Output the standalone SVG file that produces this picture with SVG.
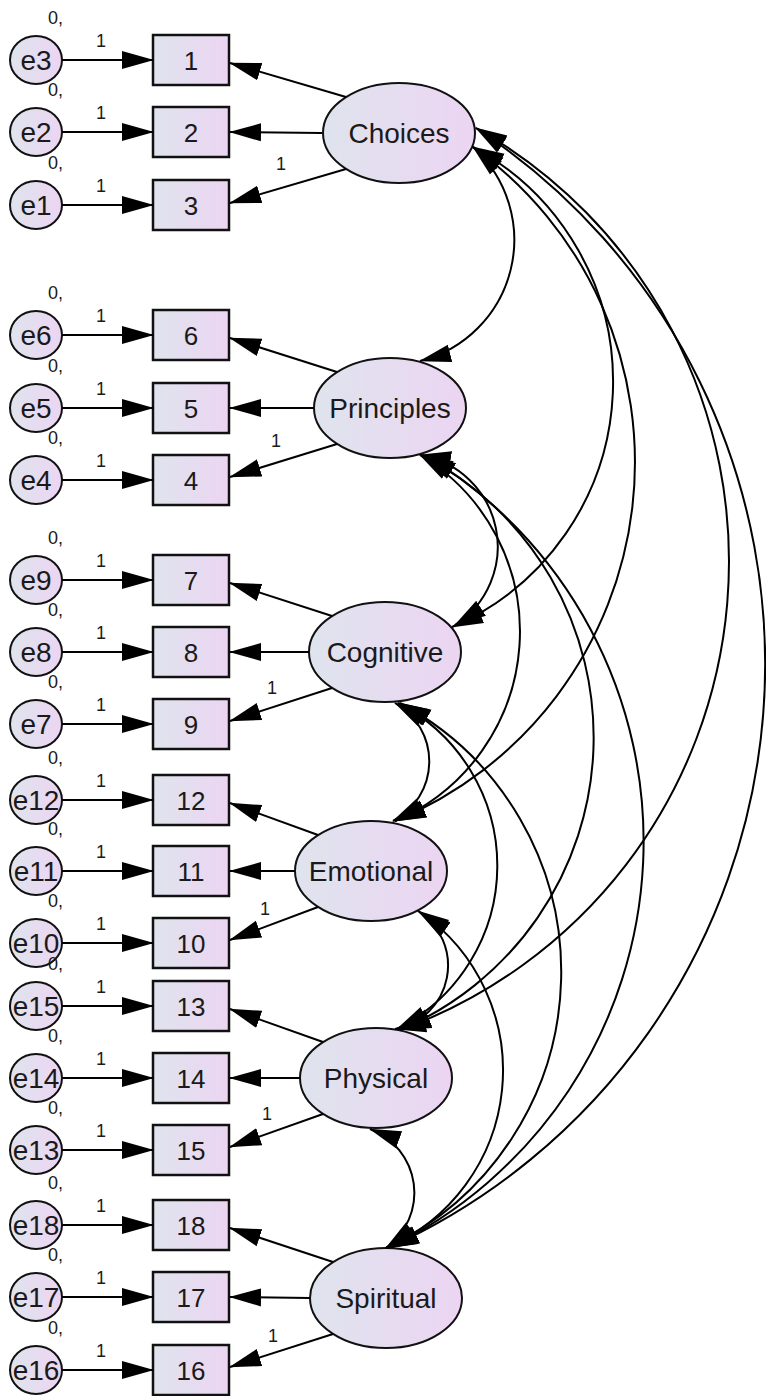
<svg xmlns="http://www.w3.org/2000/svg" width="766" height="1396" viewBox="0 0 766 1396">
<defs>
<linearGradient id="g" x1="0" x2="1" y1="0" y2="0"><stop offset="0" stop-color="#dfe4ee"/><stop offset="1" stop-color="#ecd5f2"/></linearGradient>
<marker id="ah" markerUnits="userSpaceOnUse" viewBox="0 0 32 20" markerWidth="32" markerHeight="20" refX="31" refY="10" orient="auto-start-reverse"><path d="M0,1 L32,10 L0,19 z" fill="#000"/></marker>
</defs>
<style>
.lv{fill:url(#g);stroke:#111;stroke-width:2}
.ob{fill:url(#g);stroke:#111;stroke-width:2.5}
.er{fill:url(#g);stroke:#111;stroke-width:2}
.t{font-family:"Liberation Sans",Arial,sans-serif;fill:#1a1a1a;text-anchor:middle}
.big{font-size:26px}
.fl{font-size:28px}
.el{font-size:28px}
.sm{font-family:"Liberation Sans",Arial,sans-serif;fill:#1a1a1a;font-size:18px}
.c line,.c path{stroke:#000;stroke-width:2;fill:none}
.c line{marker-end:url(#ah)}
.c path{marker-start:url(#ah);marker-end:url(#ah)}
</style>
<rect width="766" height="1396" fill="#fff"/>

<g id="Choices"><ellipse class="lv" cx="399" cy="133" rx="76" ry="50"/><text class="t fl" x="399" y="143">Choices</text></g>
<g id="Principles"><ellipse class="lv" cx="390" cy="408" rx="76" ry="50"/><text class="t fl" x="390" y="418">Principles</text></g>
<g id="Cognitive"><ellipse class="lv" cx="385" cy="652" rx="76" ry="50"/><text class="t fl" x="385" y="662">Cognitive</text></g>
<g id="Emotional"><ellipse class="lv" cx="371" cy="871" rx="76" ry="50"/><text class="t fl" x="371" y="881">Emotional</text></g>
<g id="Physical"><ellipse class="lv" cx="376" cy="1078" rx="76" ry="50"/><text class="t fl" x="376" y="1088">Physical</text></g>
<g id="Spiritual"><ellipse class="lv" cx="386" cy="1298" rx="76" ry="50"/><text class="t fl" x="386" y="1308">Spiritual</text></g>

<g id="box1"><rect class="ob" x="153" y="35" width="76" height="50"/><text class="t big" x="191" y="70">1</text></g>
<g id="box2"><rect class="ob" x="153" y="107" width="76" height="50"/><text class="t big" x="191" y="142">2</text></g>
<g id="box3"><rect class="ob" x="153" y="180" width="76" height="50"/><text class="t big" x="191" y="215">3</text></g>
<g id="box6"><rect class="ob" x="153" y="310" width="76" height="50"/><text class="t big" x="191" y="345">6</text></g>
<g id="box5"><rect class="ob" x="153" y="383" width="76" height="50"/><text class="t big" x="191" y="418">5</text></g>
<g id="box4"><rect class="ob" x="153" y="455" width="76" height="50"/><text class="t big" x="191" y="490">4</text></g>
<g id="box7"><rect class="ob" x="153" y="555" width="76" height="50"/><text class="t big" x="191" y="590">7</text></g>
<g id="box8"><rect class="ob" x="153" y="627" width="76" height="50"/><text class="t big" x="191" y="662">8</text></g>
<g id="box9"><rect class="ob" x="153" y="699" width="76" height="50"/><text class="t big" x="191" y="734">9</text></g>
<g id="box12"><rect class="ob" x="153" y="775" width="76" height="50"/><text class="t big" x="191" y="810">12</text></g>
<g id="box11"><rect class="ob" x="153" y="846" width="76" height="50"/><text class="t big" x="191" y="881">11</text></g>
<g id="box10"><rect class="ob" x="153" y="918" width="76" height="50"/><text class="t big" x="191" y="953">10</text></g>
<g id="box13"><rect class="ob" x="153" y="981" width="76" height="50"/><text class="t big" x="191" y="1016">13</text></g>
<g id="box14"><rect class="ob" x="153" y="1053" width="76" height="50"/><text class="t big" x="191" y="1088">14</text></g>
<g id="box15"><rect class="ob" x="153" y="1125" width="76" height="50"/><text class="t big" x="191" y="1160">15</text></g>
<g id="box18"><rect class="ob" x="153" y="1200" width="76" height="50"/><text class="t big" x="191" y="1235">18</text></g>
<g id="box17"><rect class="ob" x="153" y="1272" width="76" height="50"/><text class="t big" x="191" y="1307">17</text></g>
<g id="box16"><rect class="ob" x="153" y="1345" width="76" height="50"/><text class="t big" x="191" y="1380">16</text></g>

<g id="e3"><ellipse class="er" cx="36" cy="60" rx="26" ry="24"/><text class="t el" x="36" y="70">e3</text><text class="sm" x="48" y="24">0,</text></g>
<g id="e2"><ellipse class="er" cx="36" cy="132" rx="26" ry="24"/><text class="t el" x="36" y="142">e2</text><text class="sm" x="48" y="96">0,</text></g>
<g id="e1"><ellipse class="er" cx="36" cy="205" rx="26" ry="24"/><text class="t el" x="36" y="215">e1</text><text class="sm" x="48" y="169">0,</text></g>
<g id="e6"><ellipse class="er" cx="36" cy="335" rx="26" ry="24"/><text class="t el" x="36" y="345">e6</text><text class="sm" x="48" y="299">0,</text></g>
<g id="e5"><ellipse class="er" cx="36" cy="408" rx="26" ry="24"/><text class="t el" x="36" y="418">e5</text><text class="sm" x="48" y="372">0,</text></g>
<g id="e4"><ellipse class="er" cx="36" cy="480" rx="26" ry="24"/><text class="t el" x="36" y="490">e4</text><text class="sm" x="48" y="444">0,</text></g>
<g id="e9"><ellipse class="er" cx="36" cy="580" rx="26" ry="24"/><text class="t el" x="36" y="590">e9</text><text class="sm" x="48" y="544">0,</text></g>
<g id="e8"><ellipse class="er" cx="36" cy="652" rx="26" ry="24"/><text class="t el" x="36" y="662">e8</text><text class="sm" x="48" y="616">0,</text></g>
<g id="e7"><ellipse class="er" cx="36" cy="724" rx="26" ry="24"/><text class="t el" x="36" y="734">e7</text><text class="sm" x="48" y="688">0,</text></g>
<g id="e12"><ellipse class="er" cx="36" cy="800" rx="26" ry="24"/><text class="t el" x="36" y="810">e12</text><text class="sm" x="48" y="764">0,</text></g>
<g id="e11"><ellipse class="er" cx="36" cy="871" rx="26" ry="24"/><text class="t el" x="36" y="881">e11</text><text class="sm" x="48" y="835">0,</text></g>
<g id="e10"><ellipse class="er" cx="36" cy="943" rx="26" ry="24"/><text class="t el" x="36" y="953">e10</text><text class="sm" x="48" y="907">0,</text></g>
<g id="e15"><ellipse class="er" cx="36" cy="1006" rx="26" ry="24"/><text class="t el" x="36" y="1016">e15</text><text class="sm" x="48" y="970">0,</text></g>
<g id="e14"><ellipse class="er" cx="36" cy="1078" rx="26" ry="24"/><text class="t el" x="36" y="1088">e14</text><text class="sm" x="48" y="1042">0,</text></g>
<g id="e13"><ellipse class="er" cx="36" cy="1150" rx="26" ry="24"/><text class="t el" x="36" y="1160">e13</text><text class="sm" x="48" y="1114">0,</text></g>
<g id="e18"><ellipse class="er" cx="36" cy="1225" rx="26" ry="24"/><text class="t el" x="36" y="1235">e18</text><text class="sm" x="48" y="1189">0,</text></g>
<g id="e17"><ellipse class="er" cx="36" cy="1297" rx="26" ry="24"/><text class="t el" x="36" y="1307">e17</text><text class="sm" x="48" y="1261">0,</text></g>
<g id="e16"><ellipse class="er" cx="36" cy="1370" rx="26" ry="24"/><text class="t el" x="36" y="1380">e16</text><text class="sm" x="48" y="1334">0,</text></g>

<g id="connectors" class="c">
<line x1="62" y1="60" x2="153" y2="60"/><line x1="62" y1="132" x2="153" y2="132"/><line x1="62" y1="205" x2="153" y2="205"/>
<line x1="62" y1="335" x2="153" y2="335"/><line x1="62" y1="408" x2="153" y2="408"/><line x1="62" y1="480" x2="153" y2="480"/>
<line x1="62" y1="580" x2="153" y2="580"/><line x1="62" y1="652" x2="153" y2="652"/><line x1="62" y1="724" x2="153" y2="724"/>
<line x1="62" y1="800" x2="153" y2="800"/><line x1="62" y1="871" x2="153" y2="871"/><line x1="62" y1="943" x2="153" y2="943"/>
<line x1="62" y1="1006" x2="153" y2="1006"/><line x1="62" y1="1078" x2="153" y2="1078"/><line x1="62" y1="1150" x2="153" y2="1150"/>
<line x1="62" y1="1225" x2="153" y2="1225"/><line x1="62" y1="1297" x2="153" y2="1297"/><line x1="62" y1="1370" x2="153" y2="1370"/>

<line x1="346" y1="97" x2="230" y2="63"/><line x1="322" y1="133" x2="230" y2="132"/><line x1="346" y1="169" x2="230" y2="203"/>
<line x1="337" y1="372" x2="230" y2="338"/><line x1="314" y1="408" x2="230" y2="408"/><line x1="337" y1="444" x2="230" y2="477"/>
<line x1="332" y1="616" x2="230" y2="583"/><line x1="309" y1="652" x2="230" y2="652"/><line x1="332" y1="688" x2="230" y2="721"/>
<line x1="318" y1="835" x2="230" y2="803"/><line x1="295" y1="871" x2="230" y2="871"/><line x1="318" y1="907" x2="230" y2="940"/>
<line x1="323" y1="1042" x2="230" y2="1009"/><line x1="300" y1="1078" x2="230" y2="1078"/><line x1="323" y1="1114" x2="230" y2="1147"/>
<line x1="333" y1="1262" x2="230" y2="1228"/><line x1="310" y1="1298" x2="230" y2="1297"/><line x1="333" y1="1334" x2="230" y2="1367"/>

<path d="M473,147 A125,125 0 0 1 420,361"/>
<path d="M473,147 A267,267 0 0 1 452,627"/>
<path d="M473,147 A388,388 0 0 1 395,821"/>
<path d="M476,128 A498,498 0 0 1 400,1030"/>
<path d="M476,128 A641,641 0 0 1 388,1248"/>
<path d="M420,455 A93,93 0 0 1 455,625"/>
<path d="M420,455 A206,206 0 0 1 395,821"/>
<path d="M422,455 A318,318 0 0 1 400,1030"/>
<path d="M425,455 A451,451 0 0 1 388,1248"/>
<path d="M395,703 A67,67 0 0 1 393,821"/>
<path d="M398,703 A183,183 0 0 1 397,1029"/>
<path d="M400,703 A305,305 0 0 1 386,1248"/>
<path d="M418,911 A64.5,64.5 0 0 1 395,1029"/>
<path d="M420,912 A193,193 0 0 1 386,1248"/>
<path d="M370,1129 A68,68 0 0 1 386,1248"/>
</g>

<g id="labels">
<text class="sm" x="96" y="47">1</text><text class="sm" x="96" y="119">1</text><text class="sm" x="96" y="192">1</text>
<text class="sm" x="96" y="322">1</text><text class="sm" x="96" y="395">1</text><text class="sm" x="96" y="467">1</text>
<text class="sm" x="96" y="567">1</text><text class="sm" x="96" y="639">1</text><text class="sm" x="96" y="711">1</text>
<text class="sm" x="96" y="787">1</text><text class="sm" x="96" y="858">1</text><text class="sm" x="96" y="930">1</text>
<text class="sm" x="96" y="993">1</text><text class="sm" x="96" y="1065">1</text><text class="sm" x="96" y="1137">1</text>
<text class="sm" x="96" y="1212">1</text><text class="sm" x="96" y="1284">1</text><text class="sm" x="96" y="1357">1</text>
<text class="sm" x="276" y="170">1</text><text class="sm" x="271" y="447">1</text><text class="sm" x="267" y="694">1</text>
<text class="sm" x="260" y="915">1</text><text class="sm" x="262" y="1120">1</text><text class="sm" x="268" y="1342">1</text>
</g>
</svg>
